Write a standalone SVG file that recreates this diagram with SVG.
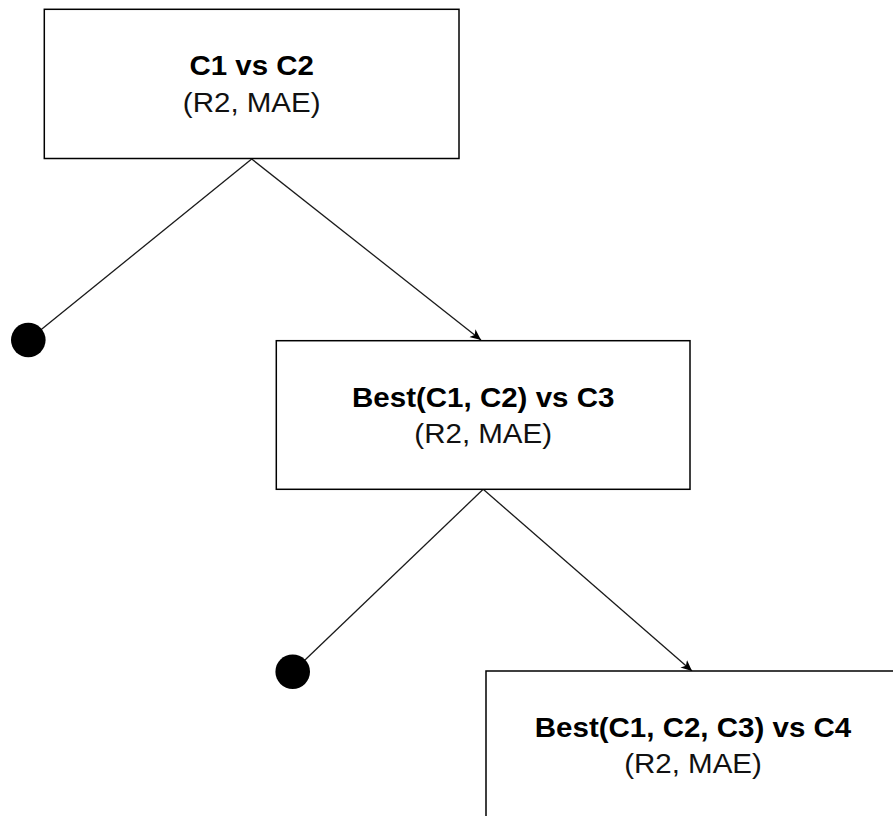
<svg xmlns="http://www.w3.org/2000/svg" width="893" height="816" viewBox="0 0 893 816">
  <style>
    .box { fill: #ffffff; stroke: #000000; stroke-width: 1.5; }
    .title { font-family: "Liberation Sans", Arial, sans-serif; font-size: 27px; font-weight: bold; fill: #000000; text-anchor: middle; }
    .sub { font-family: "Liberation Sans", Arial, sans-serif; font-size: 27px; fill: #111111; text-anchor: middle; }
    .edge { fill: none; stroke: #1a1a1a; stroke-width: 1.3; }
    .dot { fill: #000000; }
  </style>
  <defs>
    <marker id="arrow" markerUnits="userSpaceOnUse" markerWidth="14" markerHeight="12" refX="11" refY="5" orient="auto">
      <path d="M0,0 L11,5 L0,10 L3,5 Z" fill="#000000"/>
    </marker>
  </defs>
  <rect width="893" height="816" fill="#ffffff"/>
  <g id="connectors">
    <line class="edge" x1="251.7" y1="159" x2="28.3" y2="340"/>
    <line class="edge" x1="251.7" y1="159" x2="481" y2="340" marker-end="url(#arrow)"/>
    <line class="edge" x1="483.2" y1="489.3" x2="292.7" y2="671.7"/>
    <line class="edge" x1="483.2" y1="489.3" x2="692" y2="671" marker-end="url(#arrow)"/>
  </g>
  <g id="node1">
    <rect class="box" x="44.3" y="9.3" width="414.7" height="149.2"/>
    <text class="title" x="251.7" y="75" textLength="124.6" lengthAdjust="spacingAndGlyphs">C1 vs C2</text>
    <text class="sub" x="251.7" y="111.5" textLength="137.7" lengthAdjust="spacingAndGlyphs">(R2, MAE)</text>
  </g>
  <g id="end1">
    <circle class="dot" cx="28.3" cy="340" r="17.3"/>
  </g>
  <g id="node2">
    <rect class="box" x="276.3" y="340.7" width="413.7" height="148.6"/>
    <text class="title" x="483.2" y="406.5" textLength="262.3" lengthAdjust="spacingAndGlyphs">Best(C1, C2) vs C3</text>
    <text class="sub" x="483.2" y="443" textLength="137.7" lengthAdjust="spacingAndGlyphs">(R2, MAE)</text>
  </g>
  <g id="end2">
    <circle class="dot" cx="292.7" cy="671.7" r="17.3"/>
  </g>
  <g id="node3">
    <rect class="box" x="486" y="671" width="414" height="148.6"/>
    <text class="title" x="693" y="736.5" textLength="316.4" lengthAdjust="spacingAndGlyphs">Best(C1, C2, C3) vs C4</text>
    <text class="sub" x="693" y="773" textLength="137.7" lengthAdjust="spacingAndGlyphs">(R2, MAE)</text>
  </g>
</svg>
